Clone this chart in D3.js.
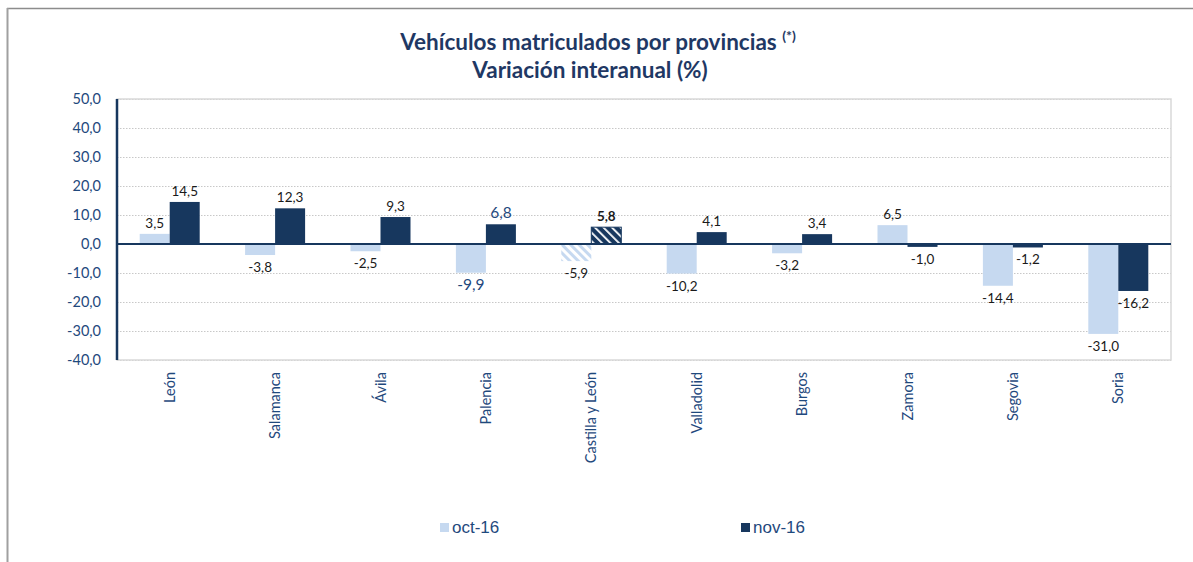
<!DOCTYPE html>
<html><head><meta charset="utf-8">
<script src="https://cdn.jsdelivr.net/npm/d3@7"></script>
<style>body{margin:0;background:#fff}svg{display:block}</style>
</head><body>
<script>
const categories = ["León","Salamanca","Ávila","Palencia","Castilla y León","Valladolid","Burgos","Zamora","Segovia","Soria"];
const oct16 = [3.5,-3.8,-2.5,-9.9,-5.9,-10.2,-3.2,6.5,-14.4,-31.0];
const nov16 = [14.5,12.3,9.3,6.8,5.8,4.1,3.4,-1.0,-1.2,-16.2];
const seriesNames = ["oct-16","nov-16"];
const yTicks = [50,40,30,20,10,0,-10,-20,-30,-40];

const W=1193,H=562;
const svg=d3.select("body").append("svg").attr("width",W).attr("height",H);
const defs=svg.append("defs");
const cLight="#c6d9f0", cDark="#17375e", cText="#1f497d";
const fmt=v=>d3.format(".1f")(v).replace(".",",").replace("\u2212","-");

function hatch(id,bg,fg,sw){
  const p=defs.append("pattern").attr("id",id).attr("patternUnits","userSpaceOnUse")
    .attr("width",6).attr("height",6).attr("patternTransform","rotate(-45)");
  p.append("rect").attr("width",6).attr("height",6).attr("fill",bg);
  p.append("rect").attr("width",sw).attr("height",6).attr("fill",fg);
}
hatch("hLight","#ffffff",cLight,3);
hatch("hDark",cDark,"#ffffff",1.8);

// outer frame
svg.append("line").attr("x1",7).attr("x2",W).attr("y1",8.5).attr("y2",8.5).attr("stroke","#8c8c8c").attr("stroke-width",1.5);
svg.append("line").attr("x1",7.5).attr("x2",7.5).attr("y1",8).attr("y2",H).attr("stroke","#a0a0a0").attr("stroke-width",2);

// title
const tf="Lato, 'Open Sans', sans-serif";
const t=svg.append("text").attr("x",598).attr("y",50).attr("text-anchor","middle")
  .attr("font-family",tf).attr("font-weight","bold").attr("font-size",22.5).attr("fill","#1f3864");
t.append("tspan").text("Vehículos matriculados por provincias ");
t.append("tspan").attr("font-size",14).attr("dy",-9).text("(*)");
svg.append("text").attr("x",590).attr("y",78).attr("text-anchor","middle")
  .attr("font-family",tf).attr("font-weight","bold").attr("font-size",22.5).attr("fill","#1f3864")
  .text("Variación interanual (%)");

const x0=117,x1=1171;
const y=d3.scaleLinear().domain([-40,50]).range([360,99]);
const x=d3.scaleBand().domain(categories).range([x0,x1]).padding(0);
const xs=d3.scaleBand().domain(seriesNames).range([0,60]);
const off=(x.bandwidth()-60)/2;

// grid
const g=svg.append("g");
g.selectAll("line.grid").data(yTicks.filter(v=>v!==0)).enter().append("line")
  .attr("x1",x0).attr("x2",x1).attr("y1",d=>Math.round(y(d))+0.5).attr("y2",d=>Math.round(y(d))+0.5)
  .attr("stroke","#c8c8c8").attr("stroke-dasharray","1.5,1.5").attr("stroke-width",1);
svg.append("rect").attr("x",x0).attr("y",y(50)).attr("width",x1-x0).attr("height",y(-40)-y(50))
  .attr("fill","none").attr("stroke","#d9d9d9").attr("stroke-width",1.5);

// y axis
const yAxis=d3.axisLeft(y).tickValues(yTicks).tickSize(0).tickPadding(16).tickFormat(fmt);
const ya=svg.append("g").attr("transform",`translate(${x0},0)`).call(yAxis);
ya.select(".domain").remove();
ya.selectAll("text").attr("font-family",tf).attr("font-size",14.5).attr("fill",cText).attr("dy","0.34em");

const data=categories.map((c,i)=>({c,i,vals:[{s:"oct-16",v:oct16[i]},{s:"nov-16",v:nov16[i]}]}));
const groups=svg.append("g").selectAll("g").data(data).enter().append("g")
  .attr("transform",d=>`translate(${x(d.c)+off},0)`);
groups.selectAll("rect").data(d=>d.vals.map(e=>({...e,c:d.c}))).enter().append("rect")
  .attr("x",d=>xs(d.s)).attr("width",xs.bandwidth())
  .attr("y",d=>Math.min(y(d.v),y(0))).attr("height",d=>Math.abs(y(d.v)-y(0)))
  .attr("fill",d=>{
    if(d.c==="Castilla y León") return d.s==="oct-16"?"url(#hLight)":"url(#hDark)";
    return d.s==="oct-16"?cLight:cDark;})
  .attr("stroke",d=>d.c==="Castilla y León"&&d.s==="nov-16"?cDark:"none");

groups.selectAll("text").data(d=>d.vals.map(e=>({...e,c:d.c}))).enter().append("text")
  .attr("x",d=>xs(d.s)+xs.bandwidth()/2)
  .attr("y",d=>d.v>=0?y(d.v)-6:y(d.v)+17)
  .attr("text-anchor","middle")
  .attr("font-family",tf)
  .attr("font-size",d=>d.c==="Palencia"?15.5:13.5)
  .attr("font-weight",d=>d.c==="Castilla y León"&&d.s==="nov-16"?"bold":"normal")
  .attr("fill",d=>d.c==="Palencia"?cText:"#1a1a1a")
  .text(d=>fmt(d.v));

svg.append("line").attr("x1",x0).attr("x2",x1).attr("y1",y(0)).attr("y2",y(0)).attr("stroke","#17375e").attr("stroke-width",2);
svg.append("line").attr("x1",x0).attr("x2",x0).attr("y1",y(50)).attr("y2",y(-40)).attr("stroke","#17375e").attr("stroke-width",2.5);

// category labels
svg.append("g").selectAll("text").data(categories).enter().append("text")
  .attr("transform",d=>`translate(${x(d)+x.bandwidth()/2+5},372) rotate(-90)`)
  .attr("text-anchor","end")
  .attr("font-family",tf).attr("font-size",14.5).attr("fill",cText)
  .text(d=>d);

// legend
const legX=[440,741];
const lg=svg.append("g").selectAll("g").data(seriesNames).enter().append("g")
  .attr("transform",(d,i)=>`translate(${legX[i]},0)`);
lg.append("rect").attr("x",0).attr("y",523).attr("width",9).attr("height",9).attr("fill",(d,i)=>i?cDark:cLight);
lg.append("text").attr("x",12).attr("y",533).attr("font-family","'Liberation Sans', Arial, sans-serif")
  .attr("font-size",17).attr("fill",cText).text(d=>d);
</script>
</body></html>
